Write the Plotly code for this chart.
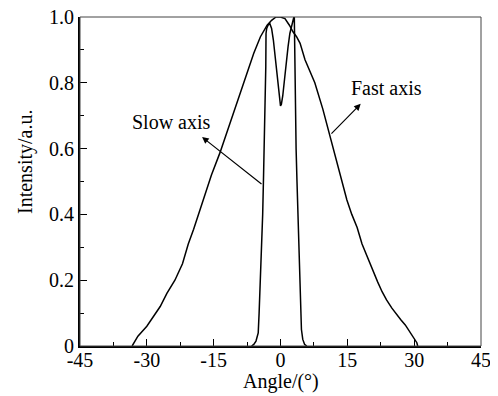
import plotly.graph_objects as go

# Fast axis profile (angle in degrees, normalized intensity)
fast_x = [-33.3, -32.0, -30.0, -28.5, -27.0, -25.5, -23.7, -22.0, -20.7, -19.5, -18.4, -17.4,
          -15.5, -13.6, -12.0, -10.5, -9.0, -7.3, -6.0, -4.5, -3.0, -2.0, -1.0, 0.0, 1.0, 2.0,
          2.8, 3.6, 4.4, 5.5, 6.5, 7.7, 9.5, 11.1, 13.0, 14.9, 16.0, 17.2, 18.3, 19.5, 20.6,
          21.8, 22.8, 23.8, 25.0, 26.1, 27.0, 28.0, 29.3, 30.6, 30.8]
fast_y = [0.0, 0.03, 0.06, 0.09, 0.12, 0.16, 0.2, 0.25, 0.31, 0.355, 0.4, 0.444,
          0.52, 0.587, 0.65, 0.71, 0.77, 0.84, 0.89, 0.94, 0.975, 0.99, 1.0, 1.0, 0.995, 0.975,
          0.955, 0.94, 0.92, 0.87, 0.84, 0.80, 0.72, 0.64, 0.54, 0.444, 0.40, 0.36, 0.31, 0.27, 0.23,
          0.195, 0.165, 0.14, 0.115, 0.094, 0.08, 0.064, 0.035, 0.01, 0.0]

# Slow axis profile
slow_x = [-6.5, -6.0, -5.5, -5.0, -4.8, -4.5, -4.2, -4.0, -3.8, -3.6, -3.4, -3.3, -3.25, -3.1,
          -2.8, -2.4, -2.0, -1.6, -1.2, -0.8, -0.5, -0.2, 0.0, 0.2, 0.5, 0.9, 1.3, 1.7, 2.1,
          2.5, 2.8, 3.0, 3.1, 3.2, 3.3, 3.5, 3.7, 3.9, 4.1, 4.3, 4.5, 4.7, 5.0, 5.4, 5.9]
slow_y = [0.0, 0.005, 0.015, 0.04, 0.1, 0.2, 0.29, 0.4, 0.52, 0.63, 0.75, 0.85, 0.95, 0.965,
          0.975, 0.98, 0.965, 0.93, 0.88, 0.83, 0.79, 0.75, 0.73, 0.735, 0.76, 0.81, 0.87, 0.91, 0.95,
          0.975, 0.99, 1.0, 1.0, 0.85, 0.7, 0.6, 0.5, 0.4, 0.32, 0.22, 0.12, 0.05, 0.02, 0.005, 0.0]

x_ticks = [-45, -30, -15, 0, 15, 30, 45]
x_tick_text = ["-45", "-30", "-15", "0", "15", "30", "45"]
y_ticks = [0, 0.2, 0.4, 0.6, 0.8, 1.0]
y_tick_text = ["0", "0.2", "0.4", "0.6", "0.8", "1.0"]

FONT = "Liberation Serif, Times New Roman, serif"

fig = go.Figure()
fig.add_trace(go.Scatter(x=fast_x, y=fast_y, mode="lines",
                         line=dict(color="black", width=1.5), showlegend=False))
fig.add_trace(go.Scatter(x=slow_x, y=slow_y, mode="lines",
                         line=dict(color="black", width=1.5), showlegend=False))

# Labels with arrows
fig.add_annotation(x=-17.6, y=0.635, ax=-3.93, ay=0.489, xref="x", yref="y",
                   axref="x", ayref="y", text="", showarrow=True,
                   arrowhead=2, arrowsize=1.1, arrowwidth=1.2, arrowcolor="black")
fig.add_annotation(x=18.0, y=0.736, ax=11.1, ay=0.641, xref="x", yref="y",
                   axref="x", ayref="y", text="", showarrow=True,
                   arrowhead=2, arrowsize=1.1, arrowwidth=1.2, arrowcolor="black")
fig.add_annotation(x=-24.4, y=0.681, text="Slow axis", showarrow=False,
                   font=dict(family=FONT, size=20, color="black"))
fig.add_annotation(x=23.7, y=0.784, text="Fast axis", showarrow=False,
                   font=dict(family=FONT, size=20, color="black"))

# Axis titles
fig.add_annotation(x=0.5, y=-36 / 329, xref="paper", yref="paper",
                   text="Angle/(°)", showarrow=False, yanchor="middle",
                   font=dict(family=FONT, size=20, color="black"))
fig.add_annotation(x=-55 / 401, y=(346 - 162) / 329, xref="paper", yref="paper",
                   text="Intensity/a.u.", showarrow=False, textangle=-90,
                   xanchor="center", yanchor="middle",
                   font=dict(family=FONT, size=20, color="black"))

# frame
fig.add_shape(type="rect", xref="paper", yref="paper", x0=0, y0=0, x1=1, y1=1,
              line=dict(color="#444", width=1))

fig.update_layout(
    width=490, height=388,
    margin=dict(l=72, r=17, t=9, b=50, autoexpand=False),
    paper_bgcolor="white", plot_bgcolor="white",
    font=dict(family=FONT, size=20, color="black"),
    xaxis=dict(range=[-45, 45], tickvals=x_ticks, ticktext=x_tick_text,
               ticks="inside", ticklen=7, tickwidth=1.2, tickcolor="black",
               showline=True, linecolor="black", linewidth=2,
               showgrid=False, zeroline=False, automargin=False,
               ticklabeloverflow="allow", ticklabelstandoff=-5,
               minor=dict(ticks="inside", ticklen=4, dtick=7.5, tick0=-45,
                          tickcolor="black", tickwidth=1.2, showgrid=False),
               tickfont=dict(family=FONT, size=20, color="black")),
    yaxis=dict(range=[0, 1.0], tickvals=y_ticks, ticktext=y_tick_text,
               ticks="inside", ticklen=7, tickwidth=1.2, tickcolor="black",
               showline=True, linecolor="black", linewidth=2,
               showgrid=False, zeroline=False, automargin=False,
               ticklabeloverflow="allow",
               minor=dict(ticks="inside", ticklen=4, dtick=0.1, tick0=0,
                          tickcolor="black", tickwidth=1.2, showgrid=False),
               tickfont=dict(family=FONT, size=20, color="black")),
)

fig.write_html("out.html")
